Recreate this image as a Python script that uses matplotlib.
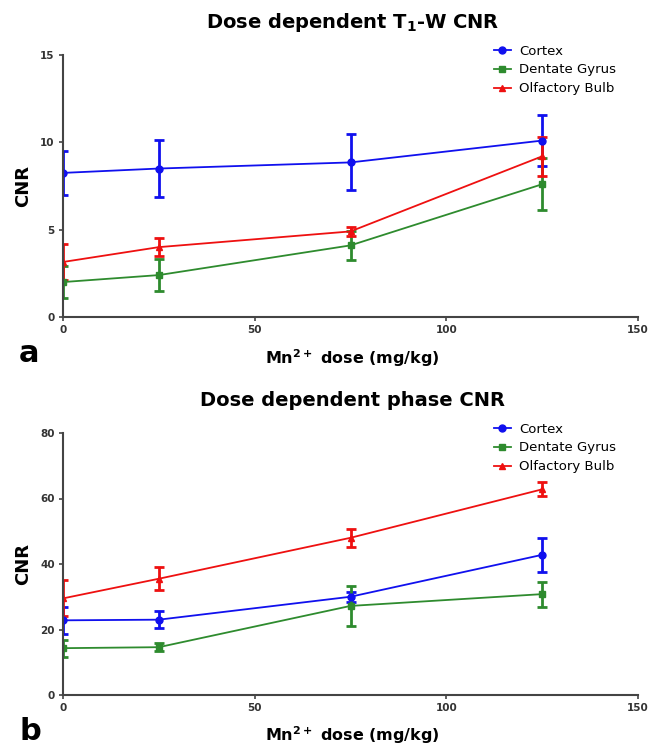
import numpy as np
import matplotlib.pyplot as plt
from matplotlib.lines import Line2D

dose = [0, 25, 75, 125]
labels = ["Cortex", "Dentate Gyrus", "Olfactory Bulb"]
colors = ["#1010ee", "#2e8b2e", "#ee1010"]
markers = ["o", "s", "^"]

# T1-W CNR (mean, sem)
t1_mean = [[8.25, 8.5, 8.85, 10.1],
           [2.0, 2.4, 4.1, 7.6],
           [3.15, 4.0, 4.9, 9.2]]
t1_err = [[1.25, 1.65, 1.6, 1.45],
          [0.9, 0.9, 0.85, 1.5],
          [1.05, 0.5, 0.25, 1.1]]

# phase CNR (mean, sem)
ph_mean = [[22.8, 23.0, 30.0, 42.8],
           [14.3, 14.6, 27.2, 30.8],
           [29.5, 35.5, 48.0, 62.8]]
ph_err = [[4.2, 2.5, 1.6, 5.2],
          [2.6, 1.3, 6.0, 3.8],
          [5.5, 3.5, 2.7, 2.1]]

W, H = 654, 745
fig = plt.figure(figsize=(W / 100, H / 100), dpi=100)

def panel(rect, means, errs, ymax, yticks, title, letter, title_y, xl_y, letter_y):
    ax = fig.add_axes(rect)
    for m, e, c, mk in zip(means, errs, colors, markers):
        ax.errorbar(dose, m, yerr=e, color=c, marker=mk, ms=5, lw=1.3,
                    elinewidth=2, capsize=3.5, capthick=2)
    ax.set_xlim(0, 150)
    ax.set_ylim(0, ymax)
    ax.set_xticks([0, 50, 100, 150])
    ax.set_yticks(yticks)
    for s in ["top", "right"]:
        ax.spines[s].set_visible(False)
    for s in ["left", "bottom"]:
        ax.spines[s].set_linewidth(1.5)
        ax.spines[s].set_color("#444444")
    ax.tick_params(direction="out", length=3, width=1.2, color="#444444",
                   labelsize=7.5, pad=3)
    for t in ax.get_xticklabels() + ax.get_yticklabels():
        t.set_fontweight("bold")
        t.set_color("#333333")
    ax.set_ylabel("CNR", fontsize=13, fontweight="bold", labelpad=6)
    handles = [Line2D([], [], color=c, marker=mk, ms=5, lw=1.3)
               for c, mk in zip(colors, markers)]
    ax.legend(handles, labels, loc="upper left", bbox_to_anchor=(0.74, 1.06),
              frameon=False, fontsize=9.5, handlelength=1.3, handletextpad=0.6,
              labelspacing=0.45, borderaxespad=0)
    fig.text(353 / W, 1 - title_y / H, title, ha="center", va="center",
             fontsize=14, fontweight="bold")
    fig.text(352 / W, 1 - xl_y / H, r"Mn$^{\mathbf{2+}}$ dose (mg/kg)", ha="center",
             va="center", fontsize=11.5, fontweight="bold")
    fig.text(19 / W, 1 - letter_y / H, letter, ha="left", va="center",
             fontsize=22, fontweight="bold")
    return ax

panel([63 / W, 1 - 317 / H, 575 / W, 262 / H], t1_mean, t1_err, 15, [0, 5, 10, 15],
      r"Dose dependent T$_\mathbf{1}$-W CNR", "a", 22, 358, 354)
panel([63 / W, 1 - 695 / H, 575 / W, 262 / H], ph_mean, ph_err, 80, [0, 20, 40, 60, 80],
      "Dose dependent phase CNR", "b", 400, 735, 731)

fig.savefig("out.png", dpi=100)
